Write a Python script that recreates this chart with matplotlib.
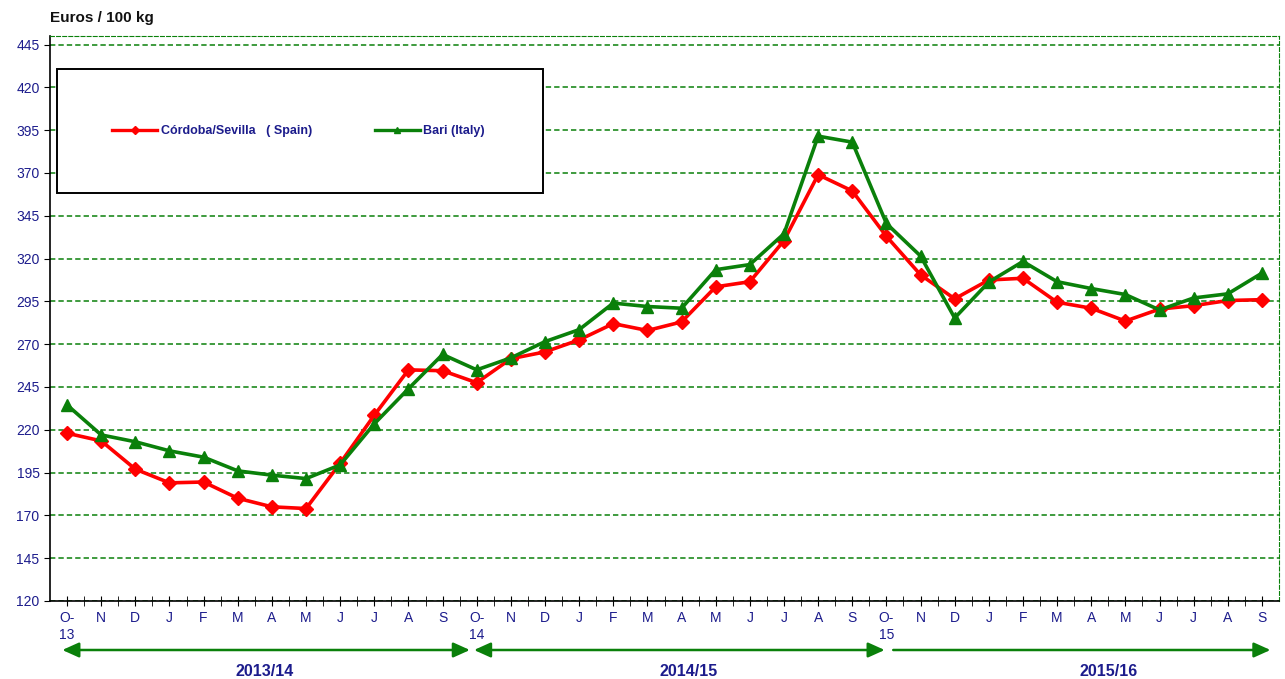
import numpy as np
import matplotlib.pyplot as plt
from matplotlib.lines import Line2D
from matplotlib.patches import Rectangle

plt.rcParams['font.family'] = ['Liberation Sans', 'DejaVu Sans']

# month labels, Oct 2013 .. Sep 2016
months = ["O-\n13", "N", "D", "J", "F", "M", "A", "M", "J", "J", "A", "S",
          "O-\n14", "N", "D", "J", "F", "M", "A", "M", "J", "J", "A", "S",
          "O-\n15", "N", "D", "J", "F", "M", "A", "M", "J", "J", "A", "S"]

# Euros / 100 kg
spain = [218, 213.5, 197, 189, 189.5, 180, 175, 174, 200.5, 228.5, 255, 254.5,
         247.5, 261.5, 265.5, 272.5, 282, 278, 283, 303.5, 306.5, 330.5, 369, 359.5,
         333, 310.5, 296.5, 307.5, 308.5, 294.5, 291, 283.5, 290.5, 292.5, 295.5, 296]
italy = [234.5, 217, 213, 207.7, 204, 196, 193.5, 191.5, 199.5, 223.5, 244, 264,
         255, 262, 271.5, 278.5, 294, 292, 291, 313.5, 316.5, 334.5, 391.5, 388,
         340.5, 321.5, 285.3, 306.3, 318.3, 306.5, 302.5, 299, 290, 297, 299.4, 311.5]

seasons = ["2013/14", "2014/15", "2015/16"]
yticks = np.arange(120, 446, 25)

navy = '#1c1c8c'
red = '#ff0000'
green = '#0a800a'

fig = plt.figure(figsize=(12.85, 6.79), dpi=100)
W, H = 1229, 565
ax = fig.add_axes([50/1285, 78/679, W/1285, H/679])

x = np.arange(len(months))
ax.plot(x, spain, color=red, lw=2.6, marker='D', ms=7, zorder=3)
ax.plot(x, italy, color=green, lw=2.6, marker='^', ms=9, zorder=3)

ax.set_xlim(-0.5, len(months) - 0.5)
ax.set_ylim(120, 450)
ax.set_yticks(yticks)
ax.tick_params(axis='y', labelsize=10, labelcolor=navy, direction='out', length=4)
ax.set_xticks(x)
ax.set_xticklabels(months, va='top', linespacing=1.25)
ax.set_xticks(x[:-1] + 0.5, minor=True)
ax.tick_params(axis='x', which='both', labelsize=10, labelcolor=navy,
               direction='inout', length=7, pad=4)
ax.yaxis.grid(True, color=green, ls=(0, (3.5, 2)), lw=1.1)
ax.set_axisbelow(True)

for s in ['top', 'right']:
    ax.spines[s].set_color(green)
    ax.spines[s].set_linestyle((0, (3.5, 2)))
ax.spines['left'].set_linewidth(1.2)
ax.spines['bottom'].set_linewidth(1.2)

# legend box (white, hides the grid)
ax.add_patch(Rectangle(((57 - 50)/W, (601 - 193)/H), (543 - 57)/W, (193 - 69)/H,
                       transform=ax.transAxes, fc='white', ec='black', lw=1.4, zorder=2))
handles = [Line2D([], [], color=red, lw=2.4, marker='D', ms=4),
           Line2D([], [], color=green, lw=2.4, marker='^', ms=5)]
leg = ax.legend(handles, ["Córdoba/Sevilla   ( Spain)", "Bari (Italy)"], ncol=2,
                loc='center left', bbox_to_anchor=((112 - 50)/W, (601 - 131)/H),
                borderaxespad=0, borderpad=0, frameon=False,
                handlelength=3.6, handletextpad=0.3, columnspacing=5.0,
                prop={'weight': 'bold', 'size': 9})
for t in leg.get_texts():
    t.set_color(navy)

# season arrows below the axis
tr = ax.get_xaxis_transform()
ya = -49/H
spans = [(-0.14, 11.8, '<|-|>'), (11.92, 23.95, '<|-|>'), (24.2, 35.25, '-|>')]
label_x = [5.8, 18.2, 30.5]
for (a, b, style), lab, lx in zip(spans, seasons, label_x):
    ax.annotate('', xy=(b, ya), xytext=(a, ya), xycoords=tr, textcoords=tr,
                arrowprops=dict(arrowstyle=style + ',head_length=1.0,head_width=0.45',
                                color=green, lw=1.8, shrinkA=0, shrinkB=0),
                annotation_clip=False)
    ax.text(lx, -70/H, lab, transform=tr, ha='center', va='center', fontsize=11.5,
            fontweight='bold', color=navy)

fig.text(50/1285, 1 - 18/679, "Euros / 100 kg", ha='left', va='center',
         fontsize=11, fontweight='bold', color='#111111')

fig.savefig("out.png", dpi=100)
